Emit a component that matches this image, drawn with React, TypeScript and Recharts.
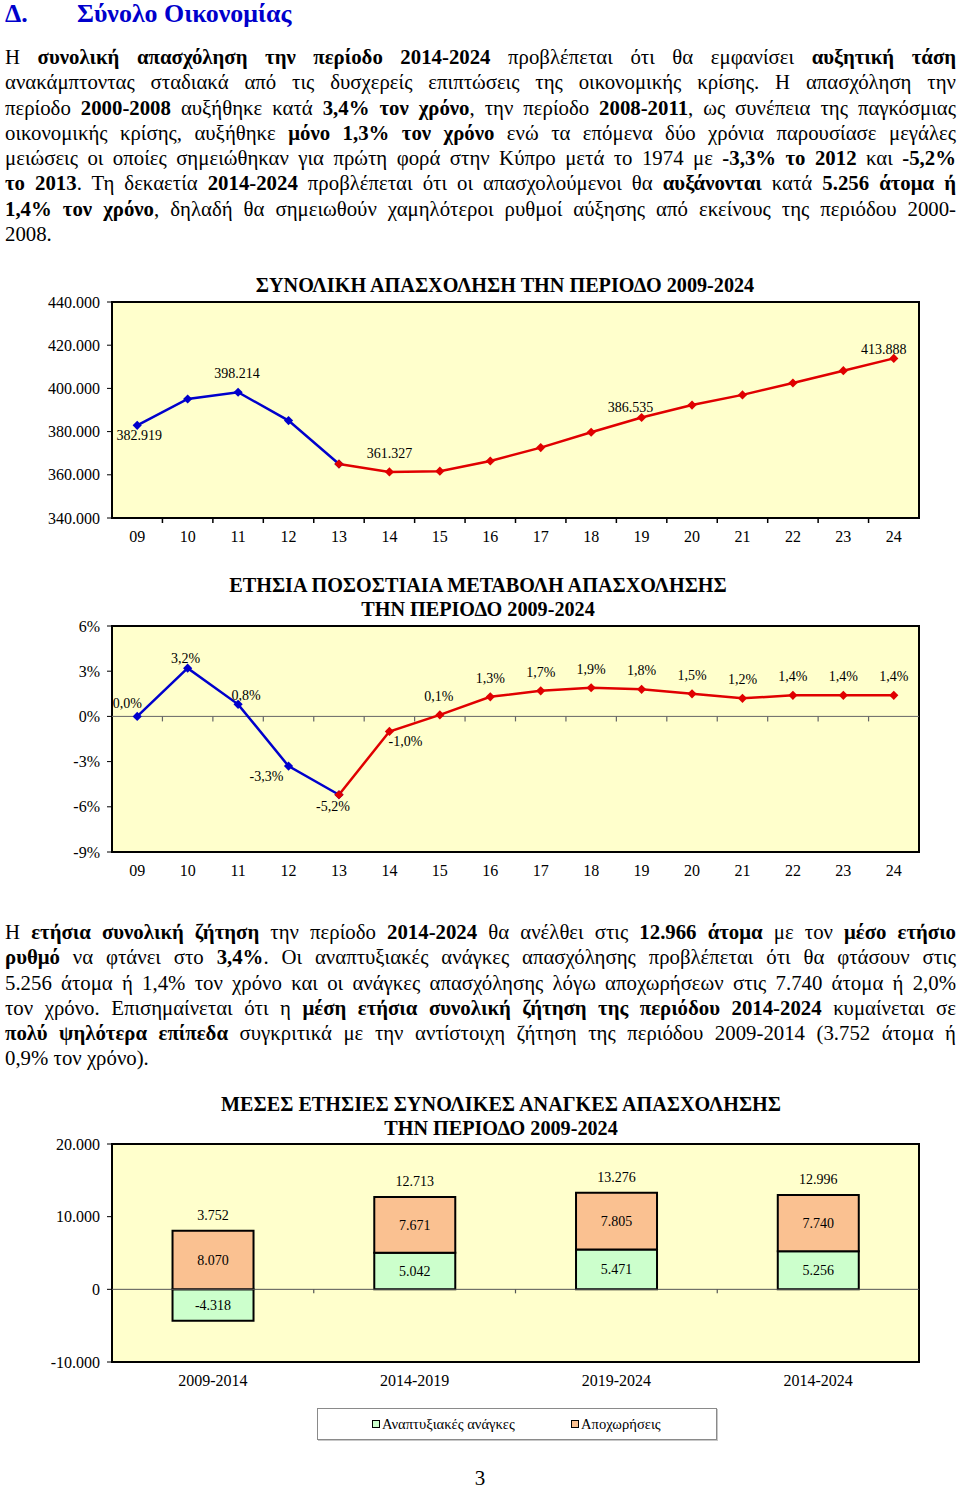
import React from 'react';
import {
  LineChart, Line, XAxis, YAxis, ReferenceArea, ReferenceLine, LabelList,
  BarChart, Bar, Legend,
} from 'recharts';

const SERIF = '"Liberation Serif", "Times New Roman", Times, serif';

// ---------- data ----------
const YEARS = ['09', '10', '11', '12', '13', '14', '15', '16', '17', '18', '19', '20', '21', '22', '23', '24'];
const FORECAST_START = '13';

const EMPLOYMENT = [382919, 395100, 398214, 385100, 365000, 361327, 361700, 366400, 372600, 379700, 386535, 392300, 397000, 402500, 408200, 413888];
const EMPLOYMENT_LABELLED = ['09', '11', '14', '19', '24'];
const EMPLOYMENT_TICKS = [340000, 360000, 380000, 400000, 420000, 440000];

const GROWTH = [0.0, 3.2, 0.8, -3.3, -5.2, -1.0, 0.1, 1.3, 1.7, 1.9, 1.8, 1.5, 1.2, 1.4, 1.4, 1.4];
const GROWTH_TICKS = [-9, -6, -3, 0, 3, 6];

const PERIODS = ['2009-2014', '2014-2019', '2019-2024', '2014-2024'];
const DEVELOPMENT_NEEDS = [-4318, 5042, 5471, 5256];
const RETIREMENTS = [8070, 7671, 7805, 7740];
const NEEDS_TICKS = [-10000, 0, 10000, 20000];

const PARA_1 = [
  'Η **συνολική απασχόληση την περίοδο 2014-2024** προβλέπεται ότι θα εμφανίσει **αυξητική τάση**',
  'ανακάμπτοντας σταδιακά από τις δυσχερείς επιπτώσεις της οικονομικής κρίσης. Η απασχόληση την',
  'περίοδο **2000-2008** αυξήθηκε κατά **3,4% τον χρόνο**, την περίοδο **2008-2011**, ως συνέπεια της παγκόσμιας',
  'οικονομικής κρίσης, αυξήθηκε **μόνο 1,3% τον χρόνο** ενώ τα επόμενα δύο χρόνια παρουσίασε μεγάλες',
  'μειώσεις οι οποίες σημειώθηκαν για πρώτη φορά στην Κύπρο μετά το 1974 με **-3,3% το 2012** και **-5,2%**',
  '**το 2013**. Τη δεκαετία **2014-2024** προβλέπεται ότι οι απασχολούμενοι θα **αυξάνονται** κατά **5.256 άτομα ή**',
  '**1,4% τον χρόνο**, δηλαδή θα σημειωθούν χαμηλότεροι ρυθμοί αύξησης από εκείνους της περιόδου 2000-',
  '2008.',
];

const PARA_2 = [
  'Η **ετήσια συνολική ζήτηση** την περίοδο **2014-2024** θα ανέλθει στις **12.966 άτομα** με τον **μέσο ετήσιο**',
  '**ρυθμό** να φτάνει στο **3,4%**. Οι αναπτυξιακές ανάγκες απασχόλησης προβλέπεται ότι θα φτάσουν στις',
  '5.256 άτομα ή 1,4% τον χρόνο και οι ανάγκες απασχόλησης λόγω αποχωρήσεων στις 7.740 άτομα ή 2,0%',
  'τον χρόνο. Επισημαίνεται ότι η **μέση ετήσια συνολική ζήτηση της περιόδου 2014-2024** κυμαίνεται σε',
  '**πολύ ψηλότερα επίπεδα** συγκριτικά με την αντίστοιχη ζήτηση της περιόδου 2009-2014 (3.752 άτομα ή',
  '0,9% τον χρόνο).',
];

// ---------- helpers ----------
const BLUE = '#0000CC';
const RED = '#E00000';
const PLOT_BG = '#FFFFCC';

const fmtThousands = (v: number) => {
  const s = Math.abs(Math.round(v)).toString().replace(/\B(?=(\d{3})+(?!\d))/g, '.');
  return (v < 0 ? '-' : '') + s;
};
const fmtPct = (v: number) => `${v.toFixed(1).replace('.', ',')}%`;

const renderRich = (s: string) =>
  s.split('**').map((part, i) => (i % 2 ? <b key={i}>{part}</b> : <span key={i}>{part}</span>));

const Para = ({ lines, top }: { lines: string[]; top: number }) => (
  <div style={{ position: 'absolute', left: 5, top, width: 951, fontFamily: SERIF, fontSize: 20.8, lineHeight: '25.3px', color: '#000' }}>
    {lines.map((l, i) => (
      <div
        key={i}
        style={{
          textAlign: 'justify',
          textAlignLast: i === lines.length - 1 ? 'left' : 'justify',
          whiteSpace: 'nowrap',
        } as React.CSSProperties}
      >
        {renderRich(l)}
      </div>
    ))}
  </div>
);

const Title = ({ lines, cx, top }: { lines: string[]; cx: number; top: number }) => (
  <div style={{ position: 'absolute', left: cx - 350, width: 700, top, textAlign: 'center', fontFamily: SERIF, fontWeight: 'bold', fontSize: 20.2, lineHeight: '23.5px', color: '#000' }}>
    {lines.map((l, i) => <div key={i}>{l}</div>)}
  </div>
);

const XTick = (props: any) => {
  const { x, y, payload } = props;
  return (
    <text x={x} y={y} dy="0.71em" textAnchor="middle" fontSize={16} fontFamily={SERIF} fill="#000">
      {payload.value}
    </text>
  );
};

const tickedLine = (count: number, tickLen: number, tickColor: string, tickWidth: number) => (props: any) => {
  const { x1, y1, x2, y2, stroke, strokeWidth } = props;
  if ([x1, y1, x2, y2].some((v) => typeof v !== 'number' || isNaN(v))) return <g />;
  const step = (x2 - x1) / count;
  const ticks = [];
  for (let i = 1; i < count; i++) {
    const tx = x1 + step * i;
    ticks.push(<line key={i} x1={tx} x2={tx} y1={y1} y2={y1 + tickLen} stroke={tickColor} strokeWidth={tickWidth} />);
  }
  return (
    <g>
      <line x1={x1} y1={y1} x2={x2} y2={y2} stroke={stroke} strokeWidth={strokeWidth} />
      {ticks}
    </g>
  );
};

const diamond = (color: string) => (props: any) => {
  const { cx, cy, index, value } = props;
  if (cx == null || cy == null || value == null || isNaN(cy)) return <g key={`d-${index}`} />;
  const r = 4.6;
  return <polygon key={`d-${index}`} points={`${cx},${cy - r} ${cx + r},${cy} ${cx},${cy + r} ${cx - r},${cy}`} fill={color} />;
};

const pointLabel = (
  labelled: string[],
  offsets: Record<string, [number, number]>,
  fmt: (v: number) => string,
  skipYear?: string,
) => (props: any) => {
  const { value, index } = props;
  const vb = props.viewBox || {};
  const x = props.x ?? vb.x;
  const y = props.y ?? vb.y;
  const year = YEARS[index];
  if (value == null || x == null || y == null || !labelled.includes(year) || year === skipYear) return null;
  const [dx, dy] = offsets[year] ?? [0, -19];
  return (
    <text key={`l-${index}`} x={x + dx} y={y + dy} dy="0.35em" textAnchor="middle" fontSize={14} fontFamily={SERIF} fill="#000">
      {fmt(value)}
    </text>
  );
};

const yTick = { fontSize: 16, fontFamily: SERIF, fill: '#000' };
const CHART_MARGIN = { top: 37, right: 41, bottom: 7, left: 0 };

// ---------- chart 1 ----------
function EmploymentChart() {
  const split = YEARS.indexOf(FORECAST_START);
  const data = YEARS.map((year, i) => ({
    year,
    actual: i <= split ? EMPLOYMENT[i] : null,
    forecast: i >= split ? EMPLOYMENT[i] : null,
  }));
  const offsets: Record<string, [number, number]> = {
    '09': [2, 10], '11': [-1, -19], '14': [0, -19], '19': [-11, -10], '24': [-10, -9],
  };
  const dMin = EMPLOYMENT_TICKS[0];
  const dMax = EMPLOYMENT_TICKS[EMPLOYMENT_TICKS.length - 1];
  return (
    <LineChart width={960} height={290} data={data} margin={CHART_MARGIN}>
      <XAxis dataKey="year" type="category" scale="band" height={30} axisLine={false} tickLine={false} tickSize={0} tickMargin={13} interval={0} tick={(p: any) => <XTick {...p} />} />
      <YAxis type="number" domain={[dMin, dMax]} ticks={EMPLOYMENT_TICKS} interval={0} width={112} axisLine={false} tickLine={{ stroke: '#000' }} tickSize={5} tickMargin={7} tick={yTick} tickFormatter={fmtThousands} />
      <ReferenceArea y1={dMin} y2={dMax} fill={PLOT_BG} fillOpacity={1} stroke="#000" strokeWidth={2} ifOverflow="visible" />
      <ReferenceLine y={dMin} stroke="#000" strokeWidth={2} ifOverflow="visible" shape={tickedLine(YEARS.length, 5, '#000', 1.5)} />
      <Line type="linear" dataKey="actual" stroke={BLUE} strokeWidth={2.5} dot={diamond(BLUE)} activeDot={false} isAnimationActive={false} connectNulls={false}>
        <LabelList dataKey="actual" content={pointLabel(EMPLOYMENT_LABELLED, offsets, fmtThousands)} />
      </Line>
      <Line type="linear" dataKey="forecast" stroke={RED} strokeWidth={2.5} dot={diamond(RED)} activeDot={false} isAnimationActive={false} connectNulls={false}>
        <LabelList dataKey="forecast" content={pointLabel(EMPLOYMENT_LABELLED, offsets, fmtThousands, FORECAST_START)} />
      </Line>
    </LineChart>
  );
}

// ---------- chart 2 ----------
function GrowthChart() {
  const split = YEARS.indexOf(FORECAST_START);
  const data = YEARS.map((year, i) => ({
    year,
    actual: i <= split ? GROWTH[i] : null,
    forecast: i >= split ? GROWTH[i] : null,
  }));
  const offsets: Record<string, [number, number]> = {
    '09': [-10, -13], '10': [-2, -10], '11': [8, -9], '12': [-22, 10], '13': [-6, 11],
    '14': [16, 10], '15': [-1, -19],
  };
  const dMin = GROWTH_TICKS[0];
  const dMax = GROWTH_TICKS[GROWTH_TICKS.length - 1];
  return (
    <LineChart width={960} height={300} data={data} margin={CHART_MARGIN}>
      <XAxis dataKey="year" type="category" scale="band" height={30} axisLine={false} tickLine={false} tickSize={0} tickMargin={13} interval={0} tick={(p: any) => <XTick {...p} />} />
      <YAxis type="number" domain={[dMin, dMax]} ticks={GROWTH_TICKS} interval={0} width={112} axisLine={false} tickLine={{ stroke: '#000' }} tickSize={5} tickMargin={7} tick={yTick} tickFormatter={(v: number) => `${v}%`} />
      <ReferenceArea y1={dMin} y2={dMax} fill={PLOT_BG} fillOpacity={1} stroke="#000" strokeWidth={2} ifOverflow="visible" />
      <ReferenceLine y={0} stroke="#666" strokeWidth={1} ifOverflow="visible" shape={tickedLine(YEARS.length, 5, '#666', 1.2)} />
      <Line type="linear" dataKey="actual" stroke={BLUE} strokeWidth={2.5} dot={diamond(BLUE)} activeDot={false} isAnimationActive={false} connectNulls={false}>
        <LabelList dataKey="actual" content={pointLabel(YEARS, offsets, fmtPct)} />
      </Line>
      <Line type="linear" dataKey="forecast" stroke={RED} strokeWidth={2.5} dot={diamond(RED)} activeDot={false} isAnimationActive={false} connectNulls={false}>
        <LabelList dataKey="forecast" content={pointLabel(YEARS, offsets, fmtPct, FORECAST_START)} />
      </Line>
    </LineChart>
  );
}

// ---------- chart 3 ----------
const barCenterLabel = (props: any) => {
  const vb = props.viewBox || props;
  const { x, y, width, height } = vb;
  if (x == null || props.value == null) return null;
  return (
    <text x={x + width / 2} y={y + height / 2} dy="0.35em" textAnchor="middle" fontSize={14} fontFamily={SERIF} fill="#000">
      {fmtThousands(props.value)}
    </text>
  );
};

const barTotalLabel = (props: any) => {
  const vb = props.viewBox || props;
  const { x, y, width, height } = vb;
  if (x == null || props.value == null) return null;
  const top = Math.min(y, y + height);
  return (
    <text x={x + width / 2} y={top - 16} dy="0.35em" textAnchor="middle" fontSize={14} fontFamily={SERIF} fill="#000">
      {fmtThousands(props.value)}
    </text>
  );
};

const renderNeedsLegend = (props: any) => {
  const items = props.payload || [];
  return (
    <div style={{ position: 'relative', width: 398, height: 30, border: '1px solid #8a8a8a', boxShadow: '1px 1px 0 #c8c8c8', background: '#fff', fontFamily: SERIF, fontSize: 14.6, color: '#000' }}>
      {items.map((it: any, i: number) => (
        <div key={i} style={{ position: 'absolute', left: i === 0 ? 54 : 253, top: 0, height: 30, display: 'flex', alignItems: 'center', whiteSpace: 'nowrap' }}>
          <span style={{ display: 'inline-block', width: 6, height: 6, border: '1.5px solid #000', background: it.color, marginRight: 2 }} />
          {it.value}
        </div>
      ))}
    </div>
  );
};

function NeedsChart() {
  const data = PERIODS.map((period, i) => ({
    period,
    development: DEVELOPMENT_NEEDS[i],
    retirement: RETIREMENTS[i],
    total: DEVELOPMENT_NEEDS[i] + RETIREMENTS[i],
  }));
  const dMin = NEEDS_TICKS[0];
  const dMax = NEEDS_TICKS[NEEDS_TICKS.length - 1];
  return (
    <BarChart width={960} height={345} data={data} stackOffset="sign" barCategoryGap="30%" margin={{ top: 37, right: 41, bottom: 60, left: 0 }}>
      <XAxis dataKey="period" type="category" height={30} axisLine={false} tickLine={false} tickSize={0} tickMargin={13} interval={0} tick={(p: any) => <XTick {...p} />} />
      <YAxis type="number" domain={[dMin, dMax]} ticks={NEEDS_TICKS} interval={0} width={112} axisLine={false} tickLine={{ stroke: '#000' }} tickSize={5} tickMargin={7} tick={yTick} tickFormatter={fmtThousands} />
      <ReferenceArea y1={dMin} y2={dMax} fill={PLOT_BG} fillOpacity={1} stroke="#000" strokeWidth={2} ifOverflow="visible" />
      <ReferenceLine y={0} stroke="#555" strokeWidth={1} ifOverflow="visible" shape={tickedLine(PERIODS.length, 4, '#555', 1.2)} />
      <Legend
        layout="horizontal"
        align="center"
        verticalAlign="middle"
        content={renderNeedsLegend}
        wrapperStyle={{ left: 317, top: 301, width: 400, height: 32 }}
      />
      <Bar dataKey="development" name="Αναπτυξιακές ανάγκες" stackId="needs" fill="#CCFFCC" stroke="#000" strokeWidth={2} isAnimationActive={false}>
        <LabelList dataKey="development" content={barCenterLabel} />
      </Bar>
      <Bar dataKey="retirement" name="Αποχωρήσεις" stackId="needs" fill="#FAC191" stroke="#000" strokeWidth={2} isAnimationActive={false}>
        <LabelList dataKey="retirement" content={barCenterLabel} />
        <LabelList dataKey="total" content={barTotalLabel} />
      </Bar>
    </BarChart>
  );
}

export default function App() {
  return (
    <div style={{ position: 'absolute', left: 0, top: 0, width: 960, height: 1490, background: '#fff', fontFamily: SERIF, overflow: 'hidden' }}>
      <div style={{ position: 'absolute', left: 5, top: 2, fontFamily: SERIF, fontWeight: 'bold', fontSize: 25.9, lineHeight: '24px', color: BLUE, whiteSpace: 'nowrap' }}>Δ.</div>
      <div style={{ position: 'absolute', left: 77, top: 2, fontFamily: SERIF, fontWeight: 'bold', fontSize: 25.9, lineHeight: '24px', color: BLUE, whiteSpace: 'nowrap' }}>Σύνολο Οικονομίας</div>

      <Para lines={PARA_1} top={44} />

      <Title lines={['ΣΥΝΟΛΙΚΗ ΑΠΑΣΧΟΛΗΣΗ ΤΗΝ ΠΕΡΙΟΔΟ 2009-2024']} cx={505} top={274} />
      <div style={{ position: 'absolute', left: 0, top: 265 }}>
        <EmploymentChart />
      </div>

      <Title lines={['ΕΤΗΣΙΑ ΠΟΣΟΣΤΙΑΙΑ ΜΕΤΑΒΟΛΗ ΑΠΑΣΧΟΛΗΣΗΣ', 'ΤΗΝ ΠΕΡΙΟΔΟ 2009-2024']} cx={478} top={574} />
      <div style={{ position: 'absolute', left: 0, top: 589 }}>
        <GrowthChart />
      </div>

      <Para lines={PARA_2} top={919} />

      <Title lines={['ΜΕΣΕΣ ΕΤΗΣΙΕΣ ΣΥΝΟΛΙΚΕΣ ΑΝΑΓΚΕΣ ΑΠΑΣΧΟΛΗΣΗΣ', 'ΤΗΝ ΠΕΡΙΟΔΟ 2009-2024']} cx={501} top={1093} />
      <div style={{ position: 'absolute', left: 0, top: 1107 }}>
        <NeedsChart />
      </div>

      <div style={{ position: 'absolute', left: 430, width: 100, top: 1466, textAlign: 'center', fontFamily: SERIF, fontSize: 21, color: '#000' }}>3</div>
    </div>
  );
}
